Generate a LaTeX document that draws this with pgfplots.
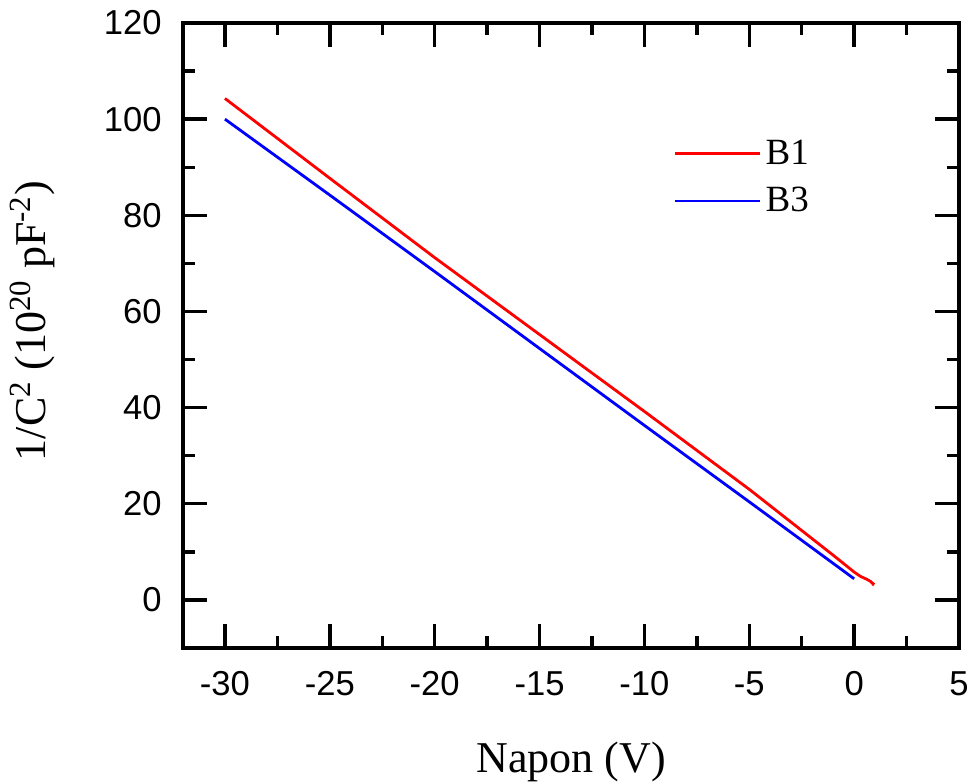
\documentclass[border=0pt]{standalone}
\usepackage{pgfplots}
\pgfplotsset{compat=1.18}
\usepackage{fontspec}
\setmainfont{Liberation Serif}
\newfontfamily\arial{Liberation Sans}
\begin{document}
\begin{tikzpicture}
\begin{axis}[
  name=ax,
  scale only axis, width=388pt, height=312.5pt,
  xmin=-32, xmax=5, ymin=-10, ymax=120,
  xtick={-30,-25,...,5}, ytick={0,20,...,120},
  minor x tick num=1, minor y tick num=1,
  tick align=inside, major tick length=12pt, minor tick length=6pt,
  axis line style={line width=1.7pt},
  every tick/.style={black, line width=1.7pt},
  tick label style={font=\arial\fontsize{17.3}{20}\selectfont},
  /pgf/number format/assume math mode=true,
  xticklabel style={yshift=-8.2pt},
  yticklabel style={xshift=-7.2pt},
  xlabel={Napon (V)},
  ylabel={1/C\textsuperscript{2} (10\textsuperscript{20} pF\textsuperscript{-2})},
  label style={font=\fontsize{22}{26}\selectfont},
  xlabel style={at={(axis description cs:0.5,0)}, anchor=base, yshift=-62.5pt},
  ylabel style={at={(axis description cs:-0.156,0.523)}, anchor=south, rotate=0},
  legend style={draw=none, fill=none, at={(axis description cs:0.632,0.82)}, anchor=north west,
     font=\fontsize{18.5}{21}\selectfont, row sep=6pt, inner sep=0pt},
  legend cell align=left,
  legend image code/.code={\draw[#1] (0pt,0pt) -- (42.5pt,0pt);},
]
\addplot[red, line width=1.4pt] coordinates {
(-30,104.3) (-25,87.7) (-20,71.2) (-15,55.2) (-10,39.2) (-5,23.0) (-1,9.3) (0,5.8)
(0.3,4.9) (0.6,4.3) (0.8,3.8) (0.9,3.3) (0.95,3.6)};
\addlegendentry{B1}
\addplot[blue, line width=1.4pt] coordinates {
(-30,100.0) (-25,84.2) (-20,68.3) (-15,52.3) (-10,36.3) (-5,20.4) (0,4.4)};
\addlegendentry{B3}
\end{axis}
\pgfresetboundingbox
\path[use as bounding box] ([xshift=-91.5pt,yshift=-68pt]ax.south west) rectangle ([xshift=6.5pt,yshift=11.5pt]ax.north east);
\end{tikzpicture}
\end{document}
